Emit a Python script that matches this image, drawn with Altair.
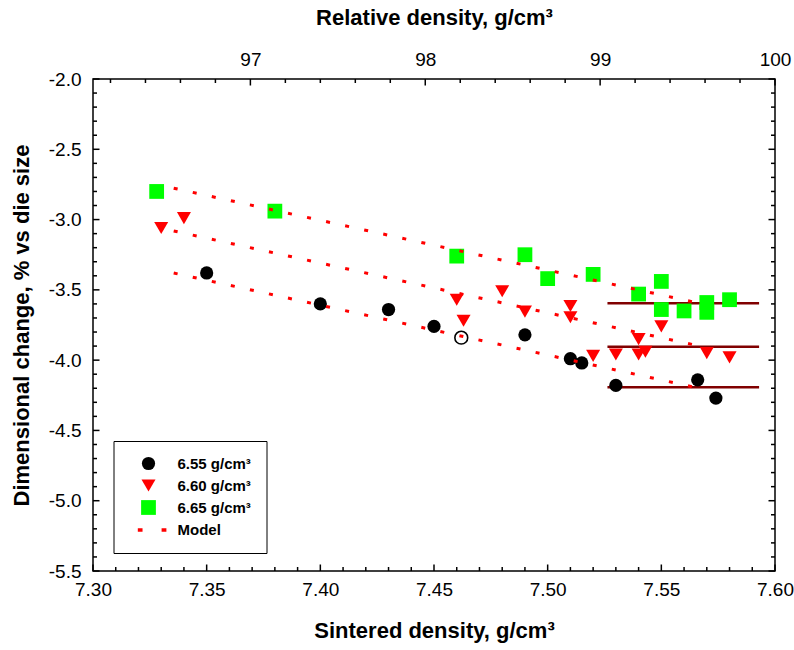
import altair as alt
import pandas as pd

# ---------------- data ----------------
labels = ["6.55 g/cm³", "6.60 g/cm³", "6.65 g/cm³", "Model"]

d655_x = [7.350, 7.400, 7.430, 7.450, 7.490, 7.510, 7.515, 7.530, 7.566, 7.574]
d655_y = [-3.38, -3.60, -3.64, -3.76, -3.82, -3.99, -4.02, -4.18, -4.14, -4.27]

open_x = [7.462]
open_y = [-3.84]

d660_x = [7.330, 7.340, 7.460, 7.463, 7.480, 7.490, 7.510, 7.510, 7.520,
          7.530, 7.540, 7.540, 7.543, 7.550, 7.570, 7.580]
d660_y = [-3.06, -2.99, -3.57, -3.72, -3.51, -3.655, -3.615, -3.695, -3.97,
          -3.96, -3.85, -3.96, -3.94, -3.76, -3.95, -3.98]

d665_x = [7.328, 7.380, 7.460, 7.490, 7.500, 7.520, 7.540, 7.550, 7.550,
          7.560, 7.570, 7.570, 7.580]
d665_y = [-2.80, -2.94, -3.26, -3.25, -3.42, -3.39, -3.53, -3.44, -3.64,
          -3.65, -3.59, -3.66, -3.57]

model_x = [7.3355, 7.570]
model_655 = [-3.380, -4.212]
model_660 = [-3.081, -3.911]
model_665 = [-2.777, -3.607]

level_x = [7.5263, 7.593]
level_y = [-3.595, -3.904, -4.193]

x_major = [7.30, 7.35, 7.40, 7.45, 7.50, 7.55, 7.60]
x_minor = [round(7.30 + 0.01 * i, 2) for i in range(31) if i % 5 != 0]
y_major = [-2.0, -2.5, -3.0, -3.5, -4.0, -4.5, -5.0, -5.5]
y_minor = [round(-2.0 - 0.1 * i, 1) for i in range(36) if i % 5 != 0]
rel_major = [97, 98, 99, 100]
rel_minor = [round(96.2 + 0.2 * i, 1) for i in range(19) if (i + 1) % 5 != 0]
rel_domain = [96.1, 100.0]

# ---------------- tables ----------------
df_pts = pd.DataFrame({
    "x": d655_x + d660_x + d665_x,
    "y": d655_y + d660_y + d665_y,
    "s": [labels[0]] * len(d655_x) + [labels[1]] * len(d660_x) + [labels[2]] * len(d665_x),
})
df_open = pd.DataFrame({"x": open_x, "y": open_y})
df_model = pd.DataFrame({
    "x": model_x * 3,
    "y": model_655 + model_660 + model_665,
    "k": ["a", "a", "b", "b", "c", "c"],
})
df_level = pd.DataFrame({"x": [level_x[0]] * 3, "x2": [level_x[1]] * 3, "y": level_y})

W, H = 682, 492
FONT = "Liberation Sans"
MAJ, MIN = 6.5, 4

xs = alt.Scale(domain=[7.30, 7.60], nice=False, zero=False)
ys = alt.Scale(domain=[-5.5, -2.0], nice=False, zero=False)

xaxis = alt.Axis(values=x_major, format=".2f", title="Sintered density, g/cm³",
                 ticks=False, tickSize=0, domain=False, grid=False,
                 labelFlush=False, labelOverlap=False, labelPadding=9,
                 titlePadding=21, labelFontSize=19, titleFontSize=22)
yaxis = alt.Axis(values=y_major, labelExpr="'-' + format(-datum.value, '.1f')",
                 title="Dimensional change, % vs die size",
                 ticks=False, tickSize=0, domain=False, grid=False,
                 labelFlush=False, labelOverlap=False, labelPadding=12,
                 titlePadding=15, labelFontSize=19, titleFontSize=22)

X = alt.X("x:Q", scale=xs, axis=xaxis)
Y = alt.Y("y:Q", scale=ys, axis=yaxis)

model_path = "M-1.38,-0.22H-0.77V0.22H-1.38Z M1.69,-0.22H2.31V0.22H1.69Z"
leg = alt.Legend(orient="none", legendX=20.5, legendY=362, title=None,
                 strokeColor="black", fillColor="white", padding=15,
                 symbolOffset=12, labelOffset=21,
                 rowPadding=6, labelFontSize=15, labelFontWeight="bold",
                 labelFont=FONT, labelColor="black", symbolStrokeWidth=0)

color = alt.Color("s:N", scale=alt.Scale(domain=labels, range=["black", "red", "#00ff00", "red"]), legend=leg)
shape = alt.Shape("s:N", scale=alt.Scale(domain=labels, range=["circle", "triangle-down", "square", model_path]), legend=leg)
size = alt.Size("s:N", scale=alt.Scale(domain=labels, range=[175, 240, 155, 170]), legend=leg)

pts = alt.Chart(df_pts).mark_point(filled=True, opacity=1).encode(
    x=X, y=Y, color=color, shape=shape, size=size)

open_pt = alt.Chart(df_open).mark_point(filled=False, size=165, color="black",
                                         strokeWidth=1.6, opacity=1).encode(x=X, y=Y)

model = alt.Chart(df_model).mark_line(color="red", strokeWidth=3, strokeDash=[4, 15.5],
                                      strokeCap="butt").encode(x=X, y=Y, detail="k:N")

level = alt.Chart(df_level).mark_rule(color="#800000", strokeWidth=2.5).encode(
    x=X, x2="x2:Q", y=Y)

def xt(vals, ln):
    return alt.Chart(pd.DataFrame({"x": vals})).mark_rule(color="black", strokeWidth=1.5).encode(
        x=X, y=alt.value(H), y2=alt.value(H - ln))

def ytl(vals, ln):
    return alt.Chart(pd.DataFrame({"y": vals})).mark_rule(color="black", strokeWidth=1.5).encode(
        y=Y, x=alt.value(0), x2=alt.value(ln))

def ytr(vals, ln):
    return alt.Chart(pd.DataFrame({"y": vals})).mark_rule(color="black", strokeWidth=1.5).encode(
        y=Y, x=alt.value(W), x2=alt.value(W - ln))

main = alt.layer(
    level, pts, open_pt, model,
    xt(x_major, MAJ), xt(x_minor, MIN),
    ytl(y_major, MAJ), ytl(y_minor, MIN),
    ytr(y_major, MAJ), ytr(y_minor, MIN),
)

rs = alt.Scale(domain=rel_domain, nice=False, zero=False)
raxis = alt.Axis(orient="top", values=rel_major, format="d", title="Relative density, g/cm³",
                 ticks=False, tickSize=0, domain=False, grid=False,
                 labelFlush=False, labelOverlap=False, labelPadding=10,
                 titlePadding=21, labelFontSize=19, titleFontSize=22)

def rt(vals, ln):
    return alt.Chart(pd.DataFrame({"r": vals})).mark_rule(color="black", strokeWidth=1.5).encode(
        x=alt.X("r:Q", scale=rs, axis=raxis), y=alt.value(0), y2=alt.value(ln))

top = alt.layer(rt(rel_major, MAJ), rt(rel_minor, MIN))

chart = alt.layer(main, top).resolve_scale(x="independent").properties(
    width=W, height=H,
    padding={"left": 93, "top": 79, "right": 794 - 93 - W, "bottom": 650 - 79 - H},
    autosize=alt.AutoSizeParams(type="none"),
    background="white",
).configure_view(stroke="black", strokeWidth=1.5).configure_axis(
    labelFont=FONT, titleFont=FONT, labelColor="black", titleColor="black",
    titleFontWeight="bold",
)

chart.save("out.html", embed_options={"renderer": "svg", "actions": False})
